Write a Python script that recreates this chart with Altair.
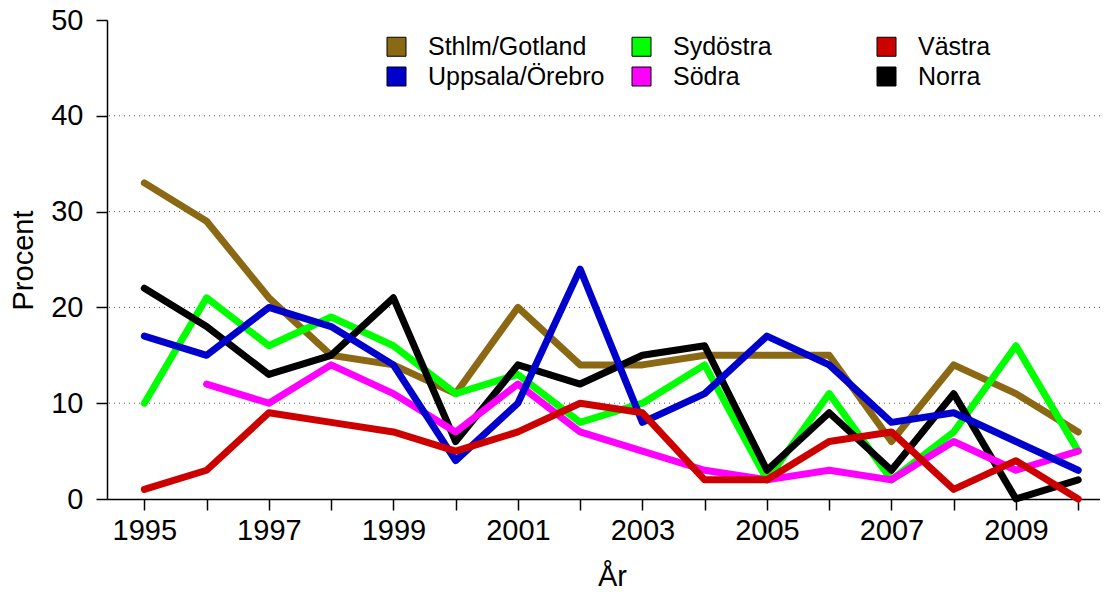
import altair as alt
import pandas as pd

years = list(range(1995, 2011))
sthlm_gotland = [33, 29, 21, 15, 14, 11, 20, 14, 14, 15, 15, 15, 6, 14, 11, 7]
uppsala_orebro = [17, 15, 20, 18, 14, 4, 10, 24, 8, 11, 17, 14, 8, 9, 6, 3]
sydostra = [10, 21, 16, 19, 16, 11, 13, 8, 10, 14, 2, 11, 2, 7, 16, 5]
sodra = [None, 12, 10, 14, 11, 7, 12, 7, 5, 3, 2, 3, 2, 6, 3, 5]
vastra = [1, 3, 9, 8, 7, 5, 7, 10, 9, 2, 2, 6, 7, 1, 4, 0]
norra = [22, 18, 13, 15, 21, 6, 14, 12, 15, 16, 3, 9, 3, 11, 0, 2]

gridlines = [10, 20, 30, 40]

# legend order (filled column by column, 3 columns)
legend_order = ["Sthlm/Gotland", "Uppsala/Örebro", "Sydöstra", "Södra", "Västra", "Norra"]
legend_colors = ["#8B6914", "#0000CD", "#00FF00", "#FF00FF", "#CD0000", "#000000"]

# drawing order
series = [
    ("Sthlm/Gotland", sthlm_gotland),
    ("Sydöstra", sydostra),
    ("Norra", norra),
    ("Södra", sodra),
    ("Uppsala/Örebro", uppsala_orebro),
    ("Västra", vastra),
]

rows = []
for order, (name, vals) in enumerate(series):
    for y, v in zip(years, vals):
        if v is not None:
            rows.append({"År": y, "Procent": v, "Region": name, "ord": order})
df = pd.DataFrame(rows)

FONT = "Liberation Sans"

xscale = alt.Scale(domain=[1994.4, 2010.35], nice=False, zero=False)
yscale = alt.Scale(domain=[0, 50], nice=False)
cscale = alt.Scale(domain=legend_order, range=legend_colors)

xaxis = alt.Axis(
    values=years,
    labelExpr="datum.value % 2 == 1 ? datum.label : ''",
    format="d",
    title="År",
    titleX=505,
    titleY=86,
    titleBaseline="alphabetic",
    titleAlign="center",
)
yaxis = alt.Axis(
    values=[0, 10, 20, 30, 40, 50],
    title="Procent",
    titleX=-84,
    titleY=240,
    titleAngle=270,
    titleAlign="center",
    titleBaseline="middle",
)

grid = alt.Chart(pd.DataFrame({"g": gridlines})).mark_rule(
    color="#555555", strokeDash=[1, 4], strokeWidth=1
).encode(y=alt.Y("g:Q", scale=yscale, axis=yaxis))

lines = alt.Chart(df).mark_line(
    strokeWidth=7, strokeCap="round", strokeJoin="round"
).encode(
    x=alt.X("År:Q", scale=xscale, axis=xaxis),
    y=alt.Y("Procent:Q", scale=yscale, axis=yaxis),
    color=alt.Color("Region:N", scale=cscale, legend=None),
    order=alt.Order("ord:Q"),
)

legend_layer = alt.Chart(df).mark_square(opacity=0, filled=True).encode(
    x=alt.X("År:Q", scale=xscale, axis=xaxis),
    y=alt.Y("Procent:Q", scale=yscale, axis=yaxis),
    color=alt.Color(
        "Region:N",
        scale=cscale,
        legend=alt.Legend(
            title=None,
            orient="none",
            legendX=277,
            legendY=14,
            columns=3,
            gridAlign="all",
            columnPadding=24,
            rowPadding=4,
            symbolType="square",
            symbolSize=361,
            symbolStrokeColor="black",
            symbolStrokeWidth=1,
            symbolOpacity=1,
            labelFontSize=25,
            labelFont=FONT,
            labelColor="black",
            labelOffset=19,
            labelLimit=400,
            padding=0,
        ),
    ),
)

chart = alt.layer(grid, lines, legend_layer).resolve_legend(
    color="independent"
).properties(
    width=993,
    height=479,
    autosize=alt.AutoSizeParams(type="none"),
    padding={"left": 99, "top": 12, "right": 0, "bottom": 95},
).configure_view(stroke=None).configure_axis(
    domainColor="black",
    domainWidth=1.5,
    tickColor="black",
    tickWidth=1.5,
    tickSize=11,
    grid=False,
    labelFont=FONT,
    labelFontSize=29,
    labelColor="black",
    titleFont=FONT,
    titleFontSize=29,
    titleFontWeight="normal",
    titleColor="black",
).configure_axisY(labelPadding=13).configure_axisX(labelPadding=6)

chart.save("out.html", embed_options={"renderer": "svg", "actions": False})
